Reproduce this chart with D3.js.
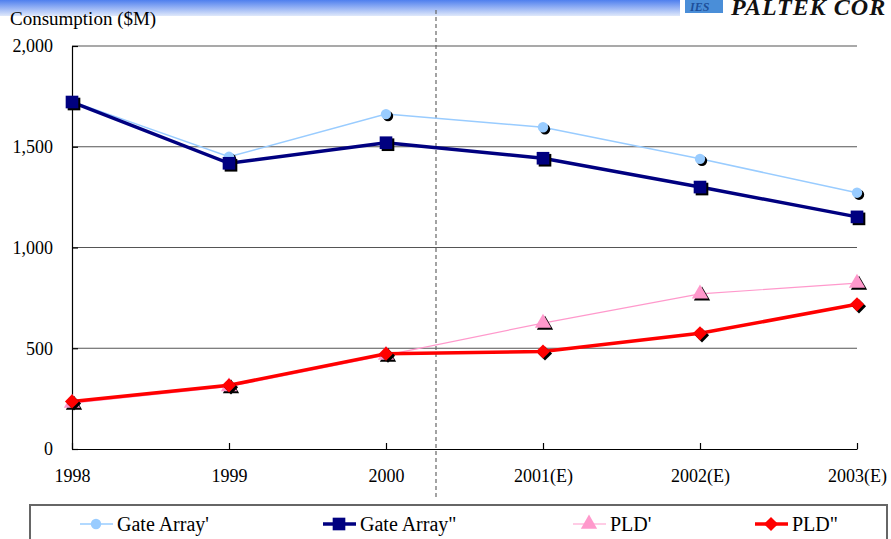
<!DOCTYPE html>
<html>
<head>
<meta charset="utf-8">
<script src="https://cdn.jsdelivr.net/npm/d3@7"></script>
<style>
  body { margin: 0; background: #fff; }
  svg { display: block; font-family: "Liberation Serif", "Times New Roman", serif; }
</style>
</head>
<body>
<svg id="chart" width="891" height="539"></svg>
<script>
(function(){
    var years = ['1998', '1999', '2000', '2001(E)', '2002(E)', '2003(E)'];
    var gateArrayA = [1725, 1450, 1662, 1597, 1440, 1272];   // Gate Array'
    var gateArrayB = [1722, 1418, 1520, 1443, 1300, 1152];   // Gate Array"
    var pldA = [228, 310, 466, 625, 770, 823];               // PLD'
    var pldB = [236, 316, 473, 484, 574, 718];               // PLD"
    var yTicks = [0, 500, 1000, 1500, 2000];

    var series = [
        { name: "Gate Array'", values: gateArrayA, color: '#99ccff', width: 1.5, shape: 'circle' },
        { name: 'Gate Array"', values: gateArrayB, color: '#000080', width: 3.5, shape: 'square' },
        { name: "PLD'",        values: pldA,       color: '#ff99cc', width: 1.2, shape: 'triangle' },
        { name: 'PLD"',        values: pldB,       color: '#ff0000', width: 3.5, shape: 'diamond' }
    ];

    var svg = d3.select('#chart');
    var serif = '"Liberation Serif", "Times New Roman", serif';
    var left = 72, right = 857, top = 46, bottom = 449;

    var x = d3.scalePoint().domain(years).range([left, right]);
    var y = d3.scaleLinear().domain([0, 2000]).range([bottom, top]);

    // top banner gradient
    var defs = svg.append('defs');
    var gv = defs.append('linearGradient').attr('id', 'bannerV').attr('x1', 0).attr('y1', 0).attr('x2', 0).attr('y2', 1);
    gv.append('stop').attr('offset', '0%').attr('stop-color', '#4f7fee');
    gv.append('stop').attr('offset', '100%').attr('stop-color', '#dfe8fb');
    svg.append('rect').attr('x', 0).attr('y', 0).attr('width', 680).attr('height', 16).attr('fill', 'url(#bannerV)');

    // logo (cut by the right edge, as in the source slide)
    svg.append('rect').attr('x', 685).attr('y', 0).attr('width', 38).attr('height', 13).attr('fill', '#4a8ed8');
    svg.append('text').attr('x', 690).attr('y', 11).attr('font-size', 12).attr('font-style', 'italic')
        .attr('font-weight', 'bold').attr('fill', '#1d4f9a').attr('font-family', serif).text('IES');
    svg.append('text').attr('x', 731).attr('y', 15).attr('font-size', 24).attr('font-style', 'italic')
        .attr('font-weight', 'bold').attr('fill', '#111').attr('letter-spacing', 1)
        .attr('font-family', serif).text('PALTEK COR');

    svg.append('text').attr('x', 10).attr('y', 25).attr('font-size', 19).attr('fill', '#000')
        .attr('font-family', serif).text('Consumption ($M)');

    // gridlines
    svg.append('g').selectAll('line').data(yTicks.filter(function(d){ return d > 0; })).join('line')
        .attr('x1', left).attr('x2', right)
        .attr('y1', function(d){ return y(d); }).attr('y2', function(d){ return y(d); })
        .attr('stroke', '#555').attr('stroke-width', 1.2);

    // y axis
    var yAxis = svg.append('g').attr('transform', 'translate(' + left + ',0)')
        .call(d3.axisLeft(y).tickValues(yTicks).tickSizeInner(-6).tickSizeOuter(0).tickPadding(19)
            .tickFormat(d3.format(',')));
    yAxis.select('.domain').attr('stroke', '#000').attr('stroke-width', 1.2);
    yAxis.selectAll('.tick line').attr('stroke', '#000').attr('stroke-width', 1.2);
    yAxis.selectAll('text').attr('font-size', 18).attr('fill', '#000').attr('font-family', serif);

    // x axis
    var xAxis = svg.append('g').attr('transform', 'translate(0,' + bottom + ')')
        .call(d3.axisBottom(x).tickSizeInner(-6).tickSizeOuter(0).tickPadding(20));
    xAxis.select('.domain').attr('stroke', '#000').attr('stroke-width', 1.2);
    xAxis.selectAll('.tick line').attr('stroke', '#000').attr('stroke-width', 1.2);
    xAxis.selectAll('text').attr('font-size', 18).attr('fill', '#000').attr('font-family', serif);

    // dashed divider between actual and estimate
    svg.append('line').attr('x1', 436).attr('x2', 436).attr('y1', 10).attr('y2', 498)
        .attr('stroke', '#666').attr('stroke-width', 1.2).attr('stroke-dasharray', '4,3');

    function markerPath(shape) {
        var sym = { circle: d3.symbolCircle, square: d3.symbolSquare, triangle: d3.symbolTriangle, diamond: d3.symbolSquare }[shape];
        var size = { circle: 85, square: 160, triangle: 115, diamond: 100 }[shape];
        return d3.symbol().type(sym).size(size)();
    }
    function markerRot(shape) { return shape === 'diamond' ? ' rotate(45)' : ''; }

    var line = d3.line()
        .x(function(d, i){ return x(years[i]); })
        .y(function(d){ return y(d); });

    series.forEach(function(s) {
        var g = svg.append('g');
        g.append('path').datum(s.values).attr('d', line)
            .attr('fill', 'none').attr('stroke', s.color).attr('stroke-width', s.width);
        g.selectAll('.shadow').data(s.values).join('path').attr('class', 'shadow')
            .attr('d', markerPath(s.shape)).attr('fill', '#000')
            .attr('transform', function(d, i){ return 'translate(' + (x(years[i]) + 2) + ',' + (y(d) + 2) + ')' + markerRot(s.shape); });
        g.selectAll('.mk').data(s.values).join('path').attr('class', 'mk')
            .attr('d', markerPath(s.shape)).attr('fill', s.color)
            .attr('transform', function(d, i){ return 'translate(' + x(years[i]) + ',' + y(d) + ')' + markerRot(s.shape); });
    });

    // legend
    svg.append('rect').attr('x', 30).attr('y', 505).attr('width', 857).attr('height', 50)
        .attr('fill', '#fff').attr('stroke', '#666').attr('stroke-width', 2);
    var legX = [80, 323, 573, 755];
    series.forEach(function(s, i) {
        var g = svg.append('g').attr('transform', 'translate(' + legX[i] + ',524)');
        g.append('line').attr('x1', 0).attr('x2', 33).attr('stroke', s.color).attr('stroke-width', s.width);
        g.append('path').attr('d', markerPath(s.shape)).attr('fill', s.color)
            .attr('transform', 'translate(16,0)' + markerRot(s.shape));
        g.append('text').attr('x', 37).attr('y', 7).attr('font-size', 20).attr('fill', '#000')
            .attr('font-family', serif).text(s.name);
    });
})();
</script>
</body>
</html>
